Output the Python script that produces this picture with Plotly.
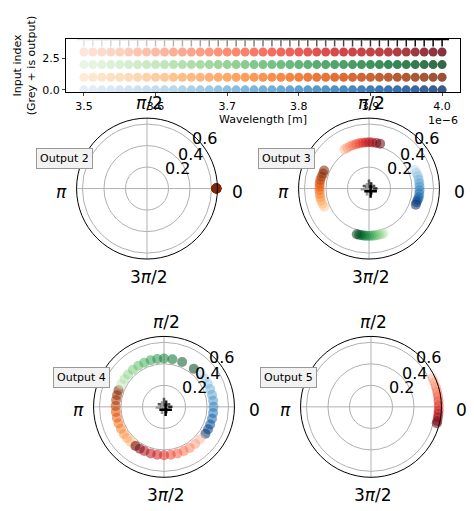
import numpy as np
import plotly.graph_objects as go

W, H = 474, 511
wavelengths = list(np.linspace(3.5e-6, 4.0e-6, 41))
input_rows = [0, 1, 2, 3]
input_scales = ["Blues", "Oranges", "Greens", "Reds"]
x_ticks = [3.5e-6, 3.6e-6, 3.7e-6, 3.8e-6, 3.9e-6, 4.0e-6]
x_ticktext = ["3.5", "3.6", "3.7", "3.8", "3.9", "4.0"]
r_ticks = ["0.2", "0.4", "0.6"]
angle_ticks = ["0", "<i>π</i>/2", "<i>π</i>", "3<i>π</i>/2"]

# polar samples (12 wavelengths) : angle in degrees, radius
out2_brown_theta = [0, 0, 0, 0, 0, 0, 0, 0, 0, 0, 0, 0]
out2_brown_r = [0.645] * 12

out3_blue_theta = [22, 18, 14, 10, 6, 2, -2, -6, -10, -13, -16, -19]
out3_blue_r = [0.46, 0.465, 0.47, 0.47, 0.47, 0.47, 0.47, 0.47, 0.47, 0.465, 0.46, 0.46]
out3_orange_theta = [202, 198, 194, 190, 186, 182, 178, 174, 170, 166, 162, 158]
out3_orange_r = [0.45, 0.455, 0.46, 0.46, 0.46, 0.46, 0.46, 0.46, 0.46, 0.455, 0.45, 0.45]
out3_green_theta = [288, 285, 282, 279, 276, 273, 270, 267, 264, 261, 258, 255]
out3_green_r = [0.44] * 12
out3_red_theta = [122, 118, 114, 110, 106, 102, 98, 94, 90, 86, 81, 76]
out3_red_r = [0.43] * 12

out4_blue_theta = [42, 35, 28, 21, 14, 7, 0, -7, -14, -21, -27, -33]
out4_blue_r = [0.46] * 12
out4_orange_theta = [232, 226, 220, 214, 207, 200, 193, 186, 179, 172, 166, 160]
out4_orange_r = [0.45] * 12
out4_green_theta = [152, 145, 138, 130, 122, 114, 106, 98, 90, 80, 68, 52]
out4_green_r = [0.45] * 12
out4_red_theta = [-42, -50, -58, -66, -74, -82, -90, -98, -106, -114, -120, -126]
out4_red_r = [0.45] * 12

out5_red_theta = [25, 21, 17, 13, 9, 5, 1, -3, -6, -9, -12, -14]
out5_red_r = [0.63] * 12

cross_r = [0.02, 0.025, 0.02, 0.03]
cross_theta = [0, 90, 200, 300]

fig = go.Figure()

n = len(wavelengths)
for row, cs in zip(input_rows, input_scales):
    fig.add_trace(go.Scatter(
        x=wavelengths, y=[row] * n, mode="markers",
        marker=dict(size=9, color=list(range(n)), colorscale=cs,
                    cmin=-6, cmax=n - 1, opacity=0.8, line=dict(width=0)),
        showlegend=False, xaxis="x", yaxis="y"))
fig.add_trace(go.Scatter(
    x=wavelengths, y=[4] * n, mode="markers",
    marker=dict(size=10, symbol="cross-thin", color=list(range(n)),
                colorscale="Greys", cmin=-10, cmax=n - 1,
                line=dict(width=1.5, color=list(range(n)), colorscale="Greys", cmin=-10, cmax=n - 1)),
    showlegend=False, xaxis="x", yaxis="y"))

centers = {2: (147, 188), 3: (369, 188), 4: (164, 408), 5: (371, 408)}
shift = (-8, -6)
ashift = (-6, -3)
R = 71
polar_data = {
    2: [(out2_brown_theta, out2_brown_r, "Oranges")],
    3: [(out3_blue_theta, out3_blue_r, "Blues"), (out3_orange_theta, out3_orange_r, "Oranges"),
        (out3_green_theta, out3_green_r, "Greens"), (out3_red_theta, out3_red_r, "Reds")],
    4: [(out4_blue_theta, out4_blue_r, "Blues"), (out4_orange_theta, out4_orange_r, "Oranges"),
        (out4_green_theta, out4_green_r, "Greens"), (out4_red_theta, out4_red_r, "Reds")],
    5: [(out5_red_theta, out5_red_r, "Reds")],
}
layout_extra = {}
annotations = []
r_offsets = [(28, -23), (41, -37), (55, -53)]
a_offsets = [(88, 0), (0, -89), (-88, 0), (0, 86)]
for i, k in enumerate([2, 3, 4, 5]):
    name = "polar" if i == 0 else f"polar{i + 1}"
    cx, cy = centers[k]
    dcx, dcy = cx + shift[0], cy + shift[1]
    ax, ay = cx + ashift[0], cy + ashift[1]
    for th, r, cs in polar_data[k]:
        cols = [11] * len(th) if k == 2 else list(range(len(th)))
        fig.add_trace(go.Scatterpolar(
            r=r, theta=th, mode="markers", subplot=name,
            marker=dict(size=10, color=cols, colorscale=cs, cmin=-4, cmax=11, opacity=0.55,
                        line=dict(width=0)),
            showlegend=False))
    if k in (3, 4):
        fig.add_trace(go.Scatterpolar(
            r=cross_r, theta=cross_theta, mode="markers", subplot=name,
            marker=dict(size=9, symbol="cross-thin",
                        line=dict(width=2.5, color=["#222", "#555", "#999", "#000"])),
            showlegend=False))
    layout_extra[name] = dict(
        domain=dict(x=[(dcx - R) / W, (dcx + R) / W], y=[1 - (dcy + R) / H, 1 - (dcy - R) / H]),
        bgcolor="white",
        radialaxis=dict(range=[0, 0.655], tickvals=[0.2, 0.4, 0.6], showticklabels=False,
                        angle=40, showline=False, ticks="", gridcolor="#b0b0b0"),
        angularaxis=dict(tickvals=[0, 90, 180, 270], showticklabels=False,
                         direction="counterclockwise", rotation=0, gridcolor="#b0b0b0",
                         linecolor="black", linewidth=1, ticks=""),
    )
    for txt, (dx, dy) in zip(r_ticks, r_offsets):
        annotations.append(dict(x=(ax + dx) / W, y=1 - (ay + dy) / H, xref="paper", yref="paper",
                                text=txt, showarrow=False, xanchor="center", yanchor="middle",
                                font=dict(size=16, color="black")))
    for txt, (dx, dy) in zip(angle_ticks, a_offsets):
        annotations.append(dict(x=(ax + dx) / W, y=1 - (ay + dy) / H, xref="paper", yref="paper",
                                text=txt, showarrow=False, xanchor="center", yanchor="middle",
                                font=dict(size=17, color="black")))
    annotations.append(dict(
        x=(ax - 85) / W, y=1 - (ay - 33) / H, xref="paper", yref="paper",
        text=f"Output {k}", showarrow=False, xanchor="center", yanchor="middle",
        font=dict(size=11, color="black"), bgcolor="#f2f2f2", bordercolor="#999",
        borderwidth=1, borderpad=3))

annotations.append(dict(x=452 / W, y=1 - 113 / H, xref="paper", yref="paper",
                        text="1e−6", showarrow=False, xanchor="right", yanchor="middle",
                        font=dict(size=11, color="black")))

fig.update_layout(
    width=W, height=H, margin=dict(l=0, r=0, t=0, b=0),
    paper_bgcolor="white", plot_bgcolor="white",
    font=dict(family="DejaVu Sans", color="black"),
    xaxis=dict(domain=[58 / W, 452 / W], anchor="y", range=[3.475e-6, 4.025e-6],
               tickvals=x_ticks, ticktext=x_ticktext, showgrid=False, zeroline=False,
               showline=True, mirror=True, linecolor="black", ticks="outside", ticklen=3,
               tickfont=dict(size=11),
               title=dict(text="Wavelength [m]", font=dict(size=11), standoff=0)),
    yaxis=dict(domain=[1 - 85 / H, 1 - 31 / H], anchor="x", range=[-0.2, 4.05],
               tickvals=[0, 2.5], ticktext=["0.0", "2.5"], showgrid=False, zeroline=False,
               showline=True, mirror=True, linecolor="black", ticks="outside", ticklen=3,
               tickfont=dict(size=11),
               title=dict(text="Input index<br>(Grey + is output)", font=dict(size=11), standoff=4)),
    annotations=annotations,
    **layout_extra,
)
fig.write_html("out.html")
